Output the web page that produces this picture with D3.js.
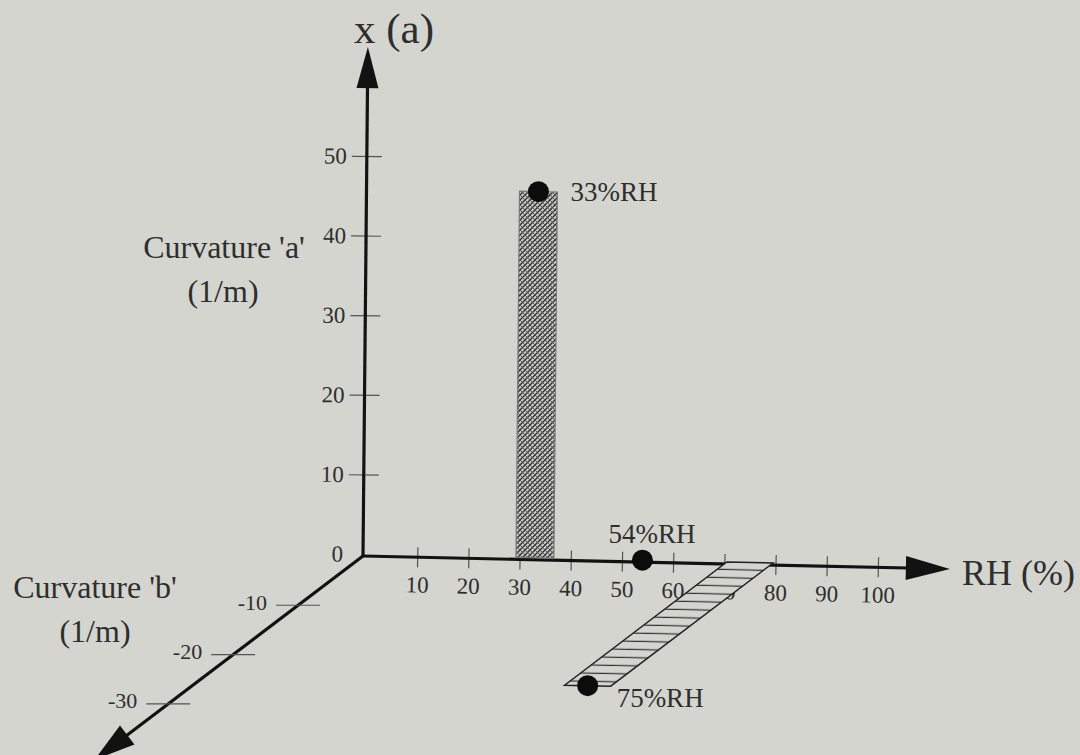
<!DOCTYPE html>
<html>
<head>
<meta charset="utf-8">
<script src="https://cdn.jsdelivr.net/npm/d3@7"></script>
<style>
  html, body { margin: 0; padding: 0; background: #d4d5ce; }
  svg { display: block; font-family: "Liberation Serif", "Times New Roman", serif; }
</style>
</head>
<body>
<svg id="chart" width="1080" height="755"></svg>
<script>
// Axis tick values
const rhTicks = [10, 20, 30, 40, 50, 60, 70, 80, 90, 100];
const aTicks = [0, 10, 20, 30, 40, 50];
const bTicks = [-10, -20, -30];

// Measured states: relative humidity (%), curvature 'a' and curvature 'b' (1/m)
const rhLevels = [33, 54, 75];
const curvA = [46, 0, 0];
const curvB = [0, 0, -25];
const pointLabels = ["33%RH", "54%RH", "75%RH"];

// ---- layout ----
const BG = "#d4d5ce";
const INK = "#121212";
const TEXT = "#2e2e2e";
const origin = [363, 556];
const rad = Math.PI / 180;
const rhAngle = 1.26;    // RH axis direction (deg, screen)
const aAngle = 0.55;     // lean of the vertical axis
const bAngle = 142.8;    // oblique axis pointing down-left

const uRH = [Math.cos(rhAngle * rad), Math.sin(rhAngle * rad)];
const uA = [Math.sin(aAngle * rad), -Math.cos(aAngle * rad)];
const uB = [Math.cos(bAngle * rad), Math.sin(bAngle * rad)];

// distances along each axis from the common origin
const rhScale = d3.scaleLinear().domain([0, 100]).range([3, 515]);
const aScale = d3.scaleLinear().domain([0, 50]).range([2, 400]);
const bScale = d3.scaleLinear().domain([0, -10]).range([0, 81.5]);

function project(rh, a, b) {
  const r = rhScale(rh), h = aScale(a), d = bScale(b);
  return [
    origin[0] + r * uRH[0] + h * uA[0] + d * uB[0],
    origin[1] + r * uRH[1] + h * uA[1] + d * uB[1]
  ];
}

const svg = d3.select("#chart");
svg.append("rect").attr("width", 1080).attr("height", 755).attr("fill", BG);

// ---- hatch patterns ----
const defs = svg.append("defs");
const xh = defs.append("pattern").attr("id", "xhatch")
  .attr("patternUnits", "userSpaceOnUse").attr("width", 5).attr("height", 5);
xh.append("rect").attr("width", 5).attr("height", 5).attr("fill", "#c9cac3");
xh.append("path").attr("d", "M0,5L5,0M-1,1L1,-1M4,6L6,4")
  .attr("stroke", "#333").attr("stroke-width", 1.4);
xh.append("path").attr("d", "M0,0L5,5M-1,4L1,6M4,-1L6,1")
  .attr("stroke", "#555").attr("stroke-width", 1);

const hh = defs.append("pattern").attr("id", "hhatch")
  .attr("patternUnits", "userSpaceOnUse").attr("width", 10).attr("height", 8.2)
  .attr("patternTransform", `rotate(${rhAngle})`);
hh.append("rect").attr("width", 10).attr("height", 8.2).attr("fill", BG);
hh.append("line").attr("x1", 0).attr("x2", 10).attr("y1", 4).attr("y2", 4)
  .attr("stroke", "#333").attr("stroke-width", 1.2);

function arrowAxis(g, length, head, half) {
  g.append("line").attr("x1", 0).attr("y1", 0).attr("x2", length - head + 2).attr("y2", 0)
    .attr("stroke", INK).attr("stroke-width", 3.2);
  g.append("path")
    .attr("d", `M${length},0L${length - head},${-half}L${length - head},${half}Z`)
    .attr("fill", INK);
}

// ---- RH axis ----
const gRH = svg.append("g").attr("transform", `translate(${origin}) rotate(${rhAngle})`);
const rhAxis = gRH.append("g")
  .call(d3.axisBottom(rhScale).tickValues(rhTicks).tickSize(10).tickPadding(9));
rhAxis.select(".domain").remove();
rhAxis.selectAll(".tick line").attr("y1", -10).attr("stroke", "#555").attr("stroke-width", 1.2);
rhAxis.selectAll(".tick text").attr("font-size", 23).attr("fill", TEXT)
  .attr("font-family", "Liberation Serif, serif");
arrowAxis(gRH, 587, 44, 12);

// ---- curvature 'a' axis (vertical) ----
const gA = svg.append("g").attr("transform", `translate(${origin}) rotate(${aAngle})`);
const aAxisScale = aScale.copy().range(aScale.range().map(v => -v));
const aAxis = gA.append("g")
  .call(d3.axisLeft(aAxisScale).tickValues(aTicks).tickSize(15).tickPadding(5));
aAxis.select(".domain").remove();
aAxis.selectAll(".tick line").attr("x1", 15).attr("stroke", "#555").attr("stroke-width", 1.2)
  .filter(d => d === 0).remove();
aAxis.selectAll(".tick text").attr("font-size", 23).attr("fill", TEXT)
  .attr("font-family", "Liberation Serif, serif");
const gAarrow = gA.append("g").attr("transform", "rotate(-90)");
arrowAxis(gAarrow, 509, 41, 11);

// ---- curvature 'b' axis (oblique) ----
const gB = svg.append("g").attr("transform", `translate(${origin}) rotate(${bAngle})`);
arrowAxis(gB, 337, 41, 12);
const bTickG = svg.append("g");
bTicks.forEach(b => {
  const d = bScale(b);
  const px = origin[0] + d * uB[0], py = origin[1] + d * uB[1];
  bTickG.append("line").attr("x1", px - 22).attr("x2", px + 22).attr("y1", py).attr("y2", py)
    .attr("stroke", "#555").attr("stroke-width", 1.2);
  bTickG.append("text").attr("x", px - 31).attr("y", py + 4.5)
    .attr("text-anchor", "end").attr("font-size", 22).attr("fill", TEXT).text(b);
});

// ---- bars ----
const barHalf = [3.7, 0, 4.5];
const marks = rhLevels.map((rh, i) => ({ rh, a: curvA[i], b: curvB[i], label: pointLabels[i], half: barHalf[i] }));

const line = d3.line();
marks.forEach(m => {
  if (m.a !== 0) {
    const pts = [project(m.rh - m.half, 0, 0), project(m.rh + m.half, 0, 0),
                 project(m.rh + m.half, m.a, 0), project(m.rh - m.half, m.a, 0)];
    svg.append("path").attr("d", line(pts) + "Z")
      .attr("fill", "url(#xhatch)").attr("stroke", "#7a7a7a").attr("stroke-width", 1.2);
  } else if (m.b !== 0) {
    const pts = [project(m.rh - m.half, 0, 0), project(m.rh + m.half, 0, 0),
                 project(m.rh + m.half, 0, m.b), project(m.rh - m.half, 0, m.b)];
    svg.append("path").attr("d", line(pts) + "Z")
      .attr("fill", "url(#hhatch)").attr("stroke", "#222").attr("stroke-width", 1.5);
  }
});

// ---- points and their labels ----
const labelOffset = [[32, 9], [-34, -17], [29, 21]];
marks.forEach((m, i) => {
  const p = project(m.rh, m.a, m.b);
  svg.append("circle").attr("cx", p[0]).attr("cy", p[1]).attr("r", 10.5).attr("fill", "#0c0c0c");
  svg.append("text").attr("x", p[0] + labelOffset[i][0]).attr("y", p[1] + labelOffset[i][1])
    .attr("font-size", 27).attr("fill", TEXT).text(m.label);
});

// ---- axis titles ----
const titles = svg.append("g").attr("fill", TEXT);
titles.append("text").attr("x", 354).attr("y", 43).attr("font-size", 43).text("x (a)");
titles.append("text").attr("x", 962).attr("y", 585).attr("font-size", 36).text("RH (%)");
titles.append("text").attr("x", 224).attr("y", 258).attr("font-size", 32)
  .attr("text-anchor", "middle").text("Curvature 'a'");
titles.append("text").attr("x", 223).attr("y", 302).attr("font-size", 32)
  .attr("text-anchor", "middle").text("(1/m)");
titles.append("text").attr("x", 95).attr("y", 598).attr("font-size", 32)
  .attr("text-anchor", "middle").text("Curvature 'b'");
titles.append("text").attr("x", 95).attr("y", 642).attr("font-size", 32)
  .attr("text-anchor", "middle").text("(1/m)");
</script>
</body>
</html>
